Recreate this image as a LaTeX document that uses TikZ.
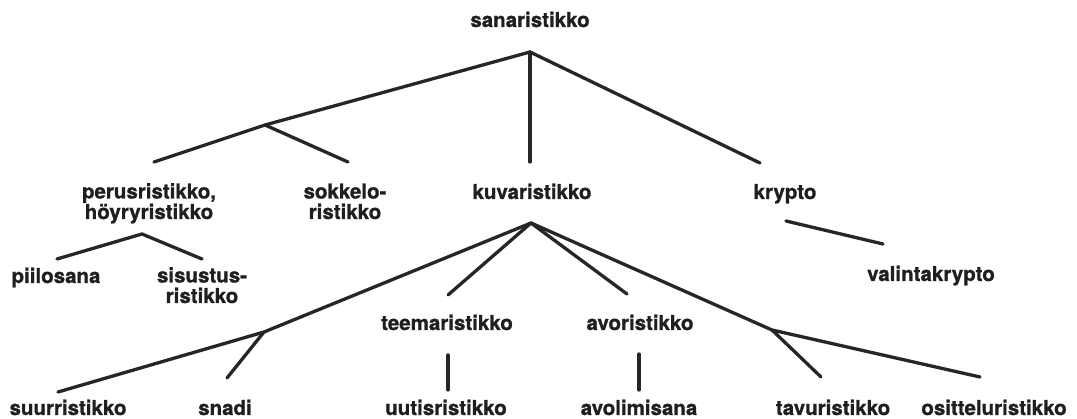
\documentclass[tikz,border=0pt]{standalone}
\usepackage{fontspec}
\setmainfont{TeX Gyre Heros}[BoldFeatures={FakeBold=1}]
\begin{document}
\begin{tikzpicture}[x=1pt,y=-1pt,
  lbl/.style={anchor=base, inner sep=0pt, font=\bfseries\fontsize{20.5}{20.5}\selectfont, align=center, text=black!88},
  edge/.style={line width=3.3pt, line cap=round, line join=round, draw=black!85}]
\useasboundingbox[fill=white] (0,0) rectangle (1077,419);
% labels (anchor base = baseline of the last line)
\node[lbl] (root) at (530,27) {sanaristikko};
\node[lbl] (perus) at (149,219) {perusristikko,\\höyryristikko};
\node[lbl] (sokkelo) at (345,219) {sokkelo-\\ristikko};
\node[lbl] (kuva) at (532,199) {kuvaristikko};
\node[lbl] (krypto) at (785,199) {krypto};
\node[lbl] (piilo) at (56,283) {piilosana};
\node[lbl] (sisustus) at (202,303) {sisustus-\\ristikko};
\node[lbl] (valinta) at (931,281) {valintakrypto};
\node[lbl] (teema) at (447,330) {teemaristikko};
\node[lbl] (avo) at (640,330) {avoristikko};
\node[lbl] (suur) at (68,415) {suurristikko};
\node[lbl] (snadi) at (225,415) {snadi};
\node[lbl] (uutis) at (446,415) {uutisristikko};
\node[lbl] (avoli) at (639,415) {avolimisana};
\node[lbl] (tavu) at (833,415) {tavuristikko};
\node[lbl] (osit) at (994,415) {ositteluristikko};
% connector points
\coordinate (r0) at (530,52);
\coordinate (r1) at (265,125);
\coordinate (r2) at (154,162);
\coordinate (r3) at (348,162);
\coordinate (r4) at (530,162);
\coordinate (r5) at (760,163);
\coordinate (p0) at (142,234);
\coordinate (p1) at (57,259);
\coordinate (p2) at (202,259);
\coordinate (c1) at (786,221);
\coordinate (c2) at (883,244);
\coordinate (k0) at (531,223);
\coordinate (k1) at (264,332);
\coordinate (k2) at (58,392);
\coordinate (k3) at (227,378);
\coordinate (k4) at (448,295);
\coordinate (k5) at (627,294);
\coordinate (k6) at (772,330);
\coordinate (k7) at (980,377);
\coordinate (k8) at (821,377);
\coordinate (t1) at (448,355);
\coordinate (t2) at (448,390);
\coordinate (a1) at (639,354);
\coordinate (a2) at (639,390);
% connectors
\draw[edge] (r0) -- (r1) -- (r2);
\draw[edge] (r1) -- (r3);
\draw[edge] (r0) -- (r4);
\draw[edge] (r0) -- (r5);
\draw[edge] (p1) -- (p0) -- (p2);
\draw[edge] (c1) -- (c2);
\draw[edge] (k0) -- (k1) -- (k2);
\draw[edge] (k1) -- (k3);
\draw[edge] (k0) -- (k4);
\draw[edge] (k0) -- (k5);
\draw[edge] (k0) -- (k6) -- (k7);
\draw[edge] (k6) -- (k8);
\draw[edge] (t1) -- (t2);
\draw[edge] (a1) -- (a2);
\end{tikzpicture}
\end{document}
